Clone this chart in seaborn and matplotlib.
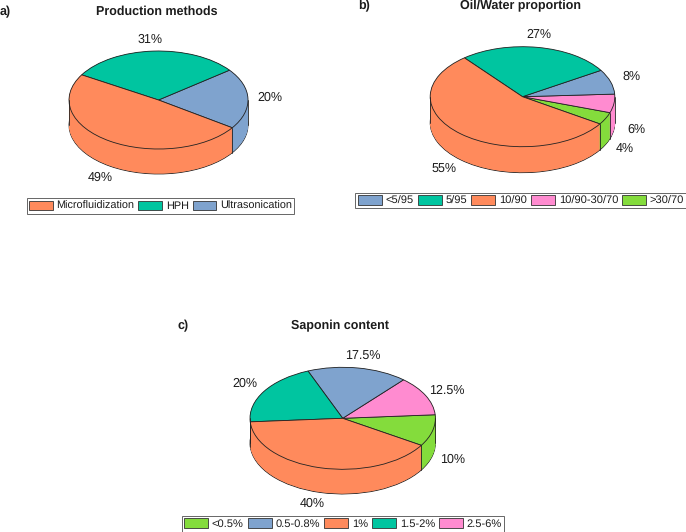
import matplotlib
matplotlib.use("Agg")
import matplotlib.pyplot as plt
import numpy as np
import seaborn as sns
from matplotlib.patches import Patch

# values are in the order the slices go round each pie (anticlockwise)
methods = ["Ultrasonication", "HPH", "Microfluidization"]
methods_pct = [20, 31, 49]
methods_legend = ["Microfluidization", "HPH", "Ultrasonication"]

ratios = [">30/70", "10/90-30/70", "<5/95", "5/95", "10/90"]
ratios_pct = [4, 6, 8, 27, 55]
ratios_legend = ["<5/95", "5/95", "10/90", "10/90-30/70", ">30/70"]

saponin = ["<0.5%", "2.5-6%", "0.5-0.8%", "1.5-2%", "1%"]
saponin_pct = [10, 12.5, 17.5, 20, 40]
saponin_legend = ["<0.5%", "0.5-0.8%", "1%", "1.5-2%", "2.5-6%"]

W, H = 686, 532
ORANGE, TEAL, BLUE, PINK, GREEN = "#FF8A5C", "#00C5A0", "#7FA3CE", "#FF8BD0", "#84DC3C"
EDGE = "#222222"

sns.set_theme(style="white", font="Liberation Sans")
plt.rcParams["font.family"] = ["Liberation Sans", "DejaVu Sans"]
plt.rcParams["text.hinting"] = "no_hinting"
TEXT = "#1c1c1c"


def draw_pie(fig, names, pct, colors, cx, cy, a, b, depth, start):
    # cx, cy, a, b, depth in pixels of the top ellipse
    pad = 1.05
    d = depth / b
    ax = fig.add_axes([(cx - a * pad) / W,
                       1 - (cy + b * pad + depth) / H,
                       2 * a * pad / W,
                       (2 * b * pad + depth) / H])
    cols = [colors[n] for n in names]
    # side wall: same pie stacked downwards, bottom one carries the outline
    ax.pie(pct, colors=cols, startangle=start, center=(0, -d),
           wedgeprops=dict(edgecolor=EDGE, linewidth=0.6))
    for k in np.arange(d - 0.01, 0.0, -0.01):
        ax.pie(pct, colors=cols, startangle=start, center=(0, -k),
               wedgeprops=dict(linewidth=0))
    ax.pie(pct, colors=cols, startangle=start,
           wedgeprops=dict(edgecolor=EDGE, linewidth=0.6))

    ax.set_aspect("auto")
    ax.set_xlim(-pad, pad)
    ax.set_ylim(-pad - d, pad)

    angles = np.radians(start + np.cumsum([0] + list(pct)) * 3.6)
    for t in angles[:-1]:
        if np.sin(t) < 0:
            ax.plot([np.cos(t)] * 2, [np.sin(t), np.sin(t) - d], color=EDGE, lw=0.6)
    ax.plot([-1, -1], [0, -d], color=EDGE, lw=0.6)
    ax.plot([1, 1], [0, -d], color=EDGE, lw=0.6)
    return ax


def put(fig, x, y, s, **kw):
    fig.text(x / W, 1 - y / H, s, va="center", color=kw.pop("color", TEXT), **kw)


def add_legend(fig, order, colors, x, y, size=8):
    handles = [Patch(facecolor=colors[n], edgecolor="#333333", linewidth=0.6) for n in order]
    leg = fig.legend(handles, order, ncol=len(order), loc="center",
                     bbox_to_anchor=(x / W, 1 - y / H), fontsize=size,
                     handlelength=2.16, handleheight=1.0, handletextpad=0.35,
                     columnspacing=0.35, borderpad=0.22, borderaxespad=0,
                     fancybox=False, framealpha=1, edgecolor="#666666", labelcolor=TEXT)
    leg.get_frame().set_linewidth(0.7)


fig = plt.figure(figsize=(W / 100, H / 100), dpi=100)

# a) production methods
a_cols = dict(zip(methods, [BLUE, TEAL, ORANGE]))
draw_pie(fig, methods, methods_pct, a_cols, 158.5, 100, 89.5, 49, 25, -34.5)
put(fig, 0, 12, "a)", fontsize=9, fontweight="bold")
put(fig, 157, 12, "Production methods", fontsize=9, fontweight="bold", ha="center")
for (x, y), v in zip([(270, 98), (150, 40), (100, 178)], methods_pct):
    put(fig, x, y, f"{v:g}%", fontsize=9, ha="center")
add_legend(fig, methods_legend, a_cols, 160.5, 206, size=7.85)

# b) oil/water proportion
b_cols = dict(zip(ratios, [GREEN, PINK, BLUE, TEAL, ORANGE]))
draw_pie(fig, ratios, ratios_pct, b_cols, 522.5, 96.7, 92.3, 50, 26, -33)
put(fig, 358, 6, "b)", fontsize=9, fontweight="bold")
put(fig, 520, 6, "Oil/Water proportion", fontsize=9, fontweight="bold", ha="center")
for (x, y), v in zip([(625, 149), (636, 130), (631, 77), (539, 35), (444, 169)], ratios_pct):
    put(fig, x, y, f"{v:g}%", fontsize=9, ha="center")
add_legend(fig, ratios_legend, b_cols, 521, 200.5)

# c) saponin content
c_cols = dict(zip(saponin, [GREEN, PINK, BLUE, TEAL, ORANGE]))
draw_pie(fig, saponin, saponin_pct, c_cols, 342.7, 418.3, 92.7, 51, 24.7, -32)
put(fig, 178, 326, "c)", fontsize=9, fontweight="bold")
put(fig, 340, 326, "Saponin content", fontsize=9, fontweight="bold", ha="center")
for (x, y), v in zip([(453, 460), (447, 391), (363, 356), (245, 384), (312, 504)], saponin_pct):
    put(fig, x, y, f"{v:g}%", fontsize=9, ha="center")
add_legend(fig, saponin_legend, c_cols, 343, 524)

fig.savefig("out.png", dpi=100)
plt.close(fig)
